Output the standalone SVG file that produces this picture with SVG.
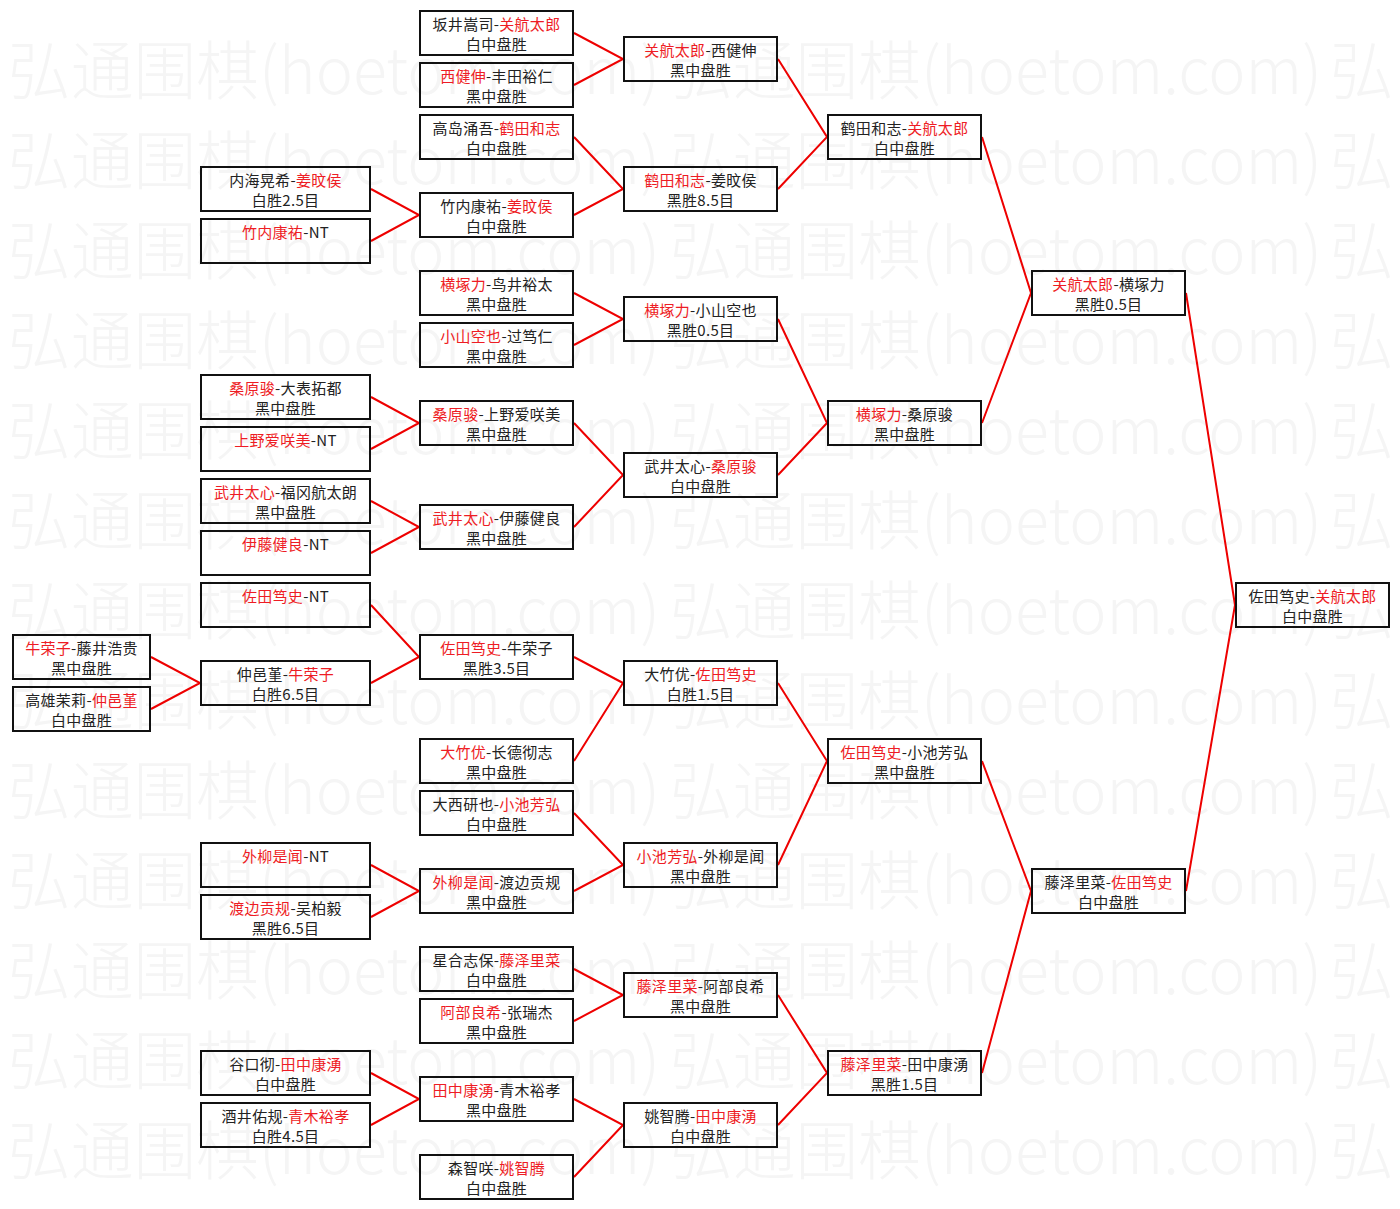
<svg xmlns="http://www.w3.org/2000/svg" xmlns:xlink="http://www.w3.org/1999/xlink" width="1400" height="1209" viewBox="0 0 1400 1209">
<style>
.box{fill:none;stroke:#111;stroke-width:2}
.t{font-family:"Noto Sans CJK SC","Noto Sans CJK JP",sans-serif;font-size:15px;letter-spacing:0.3px;fill:#222;text-anchor:middle}
.r{fill:#ee1c24}
.wm{font-family:"Noto Sans CJK SC",sans-serif;font-size:64px;font-weight:300;fill:#f5f5f5}
.ln{fill:none;stroke:#ee0000;stroke-width:2}
</style>
<defs>
<g id="wmrow">
<text class="wm" x="8" y="0" textLength="652" lengthAdjust="spacingAndGlyphs">弘通围棋(hoetom.com)</text>
<text class="wm" x="670" y="0" textLength="652" lengthAdjust="spacingAndGlyphs">弘通围棋(hoetom.com)</text>
<text class="wm" x="1330" y="0">弘</text>
</g>
</defs>
<rect x="0" y="0" width="1400" height="1209" fill="#ffffff"/>
<g id="watermark">
<use xlink:href="#wmrow" transform="translate(0,94)"/>
<use xlink:href="#wmrow" transform="translate(0,184)"/>
<use xlink:href="#wmrow" transform="translate(0,274)"/>
<use xlink:href="#wmrow" transform="translate(0,364)"/>
<use xlink:href="#wmrow" transform="translate(0,454)"/>
<use xlink:href="#wmrow" transform="translate(0,544)"/>
<use xlink:href="#wmrow" transform="translate(0,634)"/>
<use xlink:href="#wmrow" transform="translate(0,724)"/>
<use xlink:href="#wmrow" transform="translate(0,814)"/>
<use xlink:href="#wmrow" transform="translate(0,904)"/>
<use xlink:href="#wmrow" transform="translate(0,994)"/>
<use xlink:href="#wmrow" transform="translate(0,1084)"/>
<use xlink:href="#wmrow" transform="translate(0,1174)"/>
</g>
<g id="connectors">
<polyline class="ln" points="151,657 200,683 151,709"/>
<polyline class="ln" points="371,189 419,215 371,241"/>
<polyline class="ln" points="371,397 419,423 371,449"/>
<polyline class="ln" points="371,501 419,527 371,553"/>
<polyline class="ln" points="371,605 419,657 371,683"/>
<polyline class="ln" points="371,865 419,891 371,917"/>
<polyline class="ln" points="371,1073 419,1099 371,1125"/>
<polyline class="ln" points="574,33 623,59 574,85"/>
<polyline class="ln" points="574,137 623,189 574,215"/>
<polyline class="ln" points="574,293 623,319 574,345"/>
<polyline class="ln" points="574,423 623,475 574,527"/>
<polyline class="ln" points="574,657 623,683 574,761"/>
<polyline class="ln" points="574,813 623,865 574,891"/>
<polyline class="ln" points="574,969 623,995 574,1021"/>
<polyline class="ln" points="574,1099 623,1125 574,1177"/>
<polyline class="ln" points="778,59 827,137 778,189"/>
<polyline class="ln" points="778,319 827,423 778,475"/>
<polyline class="ln" points="778,683 827,761 778,865"/>
<polyline class="ln" points="778,995 827,1073 778,1125"/>
<polyline class="ln" points="982,137 1031,293 982,423"/>
<polyline class="ln" points="982,761 1031,891 982,1073"/>
<polyline class="ln" points="1186,293 1235,605 1186,891"/>
</g>
<!-- column 0 -->
<g id="n-c0-1"><rect class="box" x="13" y="635" width="137" height="44"/><text class="t" x="81.5" y="654"><tspan class="r">牛荣子</tspan>-藤井浩贵</text><text class="t" x="81.5" y="674">黑中盘胜</text></g>
<g id="n-c0-2"><rect class="box" x="13" y="687" width="137" height="44"/><text class="t" x="81.5" y="706">高雄茉莉-<tspan class="r">仲邑堇</tspan></text><text class="t" x="81.5" y="726">白中盘胜</text></g>
<!-- column 1 -->
<g id="n-c1-1"><rect class="box" x="201" y="167" width="169" height="44"/><text class="t" x="285.5" y="186">内海晃希-<tspan class="r">姜旼侯</tspan></text><text class="t" x="285.5" y="206">白胜2.5目</text></g>
<g id="n-c1-2"><rect class="box" x="201" y="219" width="169" height="44"/><text class="t" x="285.5" y="238"><tspan class="r">竹内康祐</tspan>-NT</text></g>
<g id="n-c1-3"><rect class="box" x="201" y="375" width="169" height="44"/><text class="t" x="285.5" y="394"><tspan class="r">桑原骏</tspan>-大表拓都</text><text class="t" x="285.5" y="414">黑中盘胜</text></g>
<g id="n-c1-4"><rect class="box" x="201" y="427" width="169" height="44"/><text class="t" x="285.5" y="446"><tspan class="r">上野爱咲美</tspan>-NT</text></g>
<g id="n-c1-5"><rect class="box" x="201" y="479" width="169" height="44"/><text class="t" x="285.5" y="498"><tspan class="r">武井太心</tspan>-福冈航太朗</text><text class="t" x="285.5" y="518">黑中盘胜</text></g>
<g id="n-c1-6"><rect class="box" x="201" y="531" width="169" height="44"/><text class="t" x="285.5" y="550"><tspan class="r">伊藤健良</tspan>-NT</text></g>
<g id="n-c1-7"><rect class="box" x="201" y="583" width="169" height="44"/><text class="t" x="285.5" y="602"><tspan class="r">佐田笃史</tspan>-NT</text></g>
<g id="n-c1-8"><rect class="box" x="201" y="661" width="169" height="44"/><text class="t" x="285.5" y="680">仲邑堇-<tspan class="r">牛荣子</tspan></text><text class="t" x="285.5" y="700">白胜6.5目</text></g>
<g id="n-c1-9"><rect class="box" x="201" y="843" width="169" height="44"/><text class="t" x="285.5" y="862"><tspan class="r">外柳是闻</tspan>-NT</text></g>
<g id="n-c1-10"><rect class="box" x="201" y="895" width="169" height="44"/><text class="t" x="285.5" y="914"><tspan class="r">渡边贡规</tspan>-吴柏毅</text><text class="t" x="285.5" y="934">黑胜6.5目</text></g>
<g id="n-c1-11"><rect class="box" x="201" y="1051" width="169" height="44"/><text class="t" x="285.5" y="1070">谷口彻-<tspan class="r">田中康湧</tspan></text><text class="t" x="285.5" y="1090">白中盘胜</text></g>
<g id="n-c1-12"><rect class="box" x="201" y="1103" width="169" height="44"/><text class="t" x="285.5" y="1122">酒井佑规-<tspan class="r">青木裕孝</tspan></text><text class="t" x="285.5" y="1142">白胜4.5目</text></g>
<!-- column 2 -->
<g id="n-c2-1"><rect class="box" x="420" y="11" width="153" height="44"/><text class="t" x="496.5" y="30">坂井嵩司-<tspan class="r">关航太郎</tspan></text><text class="t" x="496.5" y="50">白中盘胜</text></g>
<g id="n-c2-2"><rect class="box" x="420" y="63" width="153" height="44"/><text class="t" x="496.5" y="82"><tspan class="r">西健伸</tspan>-丰田裕仁</text><text class="t" x="496.5" y="102">黑中盘胜</text></g>
<g id="n-c2-3"><rect class="box" x="420" y="115" width="153" height="44"/><text class="t" x="496.5" y="134">高岛涌吾-<tspan class="r">鹤田和志</tspan></text><text class="t" x="496.5" y="154">白中盘胜</text></g>
<g id="n-c2-4"><rect class="box" x="420" y="193" width="153" height="44"/><text class="t" x="496.5" y="212">竹内康祐-<tspan class="r">姜旼侯</tspan></text><text class="t" x="496.5" y="232">白中盘胜</text></g>
<g id="n-c2-5"><rect class="box" x="420" y="271" width="153" height="44"/><text class="t" x="496.5" y="290"><tspan class="r">横塚力</tspan>-鸟井裕太</text><text class="t" x="496.5" y="310">黑中盘胜</text></g>
<g id="n-c2-6"><rect class="box" x="420" y="323" width="153" height="44"/><text class="t" x="496.5" y="342"><tspan class="r">小山空也</tspan>-过笃仁</text><text class="t" x="496.5" y="362">黑中盘胜</text></g>
<g id="n-c2-7"><rect class="box" x="420" y="401" width="153" height="44"/><text class="t" x="496.5" y="420"><tspan class="r">桑原骏</tspan>-上野爱咲美</text><text class="t" x="496.5" y="440">黑中盘胜</text></g>
<g id="n-c2-8"><rect class="box" x="420" y="505" width="153" height="44"/><text class="t" x="496.5" y="524"><tspan class="r">武井太心</tspan>-伊藤健良</text><text class="t" x="496.5" y="544">黑中盘胜</text></g>
<g id="n-c2-9"><rect class="box" x="420" y="635" width="153" height="44"/><text class="t" x="496.5" y="654"><tspan class="r">佐田笃史</tspan>-牛荣子</text><text class="t" x="496.5" y="674">黑胜3.5目</text></g>
<g id="n-c2-10"><rect class="box" x="420" y="739" width="153" height="44"/><text class="t" x="496.5" y="758"><tspan class="r">大竹优</tspan>-长德彻志</text><text class="t" x="496.5" y="778">黑中盘胜</text></g>
<g id="n-c2-11"><rect class="box" x="420" y="791" width="153" height="44"/><text class="t" x="496.5" y="810">大西研也-<tspan class="r">小池芳弘</tspan></text><text class="t" x="496.5" y="830">白中盘胜</text></g>
<g id="n-c2-12"><rect class="box" x="420" y="869" width="153" height="44"/><text class="t" x="496.5" y="888"><tspan class="r">外柳是闻</tspan>-渡边贡规</text><text class="t" x="496.5" y="908">黑中盘胜</text></g>
<g id="n-c2-13"><rect class="box" x="420" y="947" width="153" height="44"/><text class="t" x="496.5" y="966">星合志保-<tspan class="r">藤泽里菜</tspan></text><text class="t" x="496.5" y="986">白中盘胜</text></g>
<g id="n-c2-14"><rect class="box" x="420" y="999" width="153" height="44"/><text class="t" x="496.5" y="1018"><tspan class="r">阿部良希</tspan>-张瑞杰</text><text class="t" x="496.5" y="1038">黑中盘胜</text></g>
<g id="n-c2-15"><rect class="box" x="420" y="1077" width="153" height="44"/><text class="t" x="496.5" y="1096"><tspan class="r">田中康湧</tspan>-青木裕孝</text><text class="t" x="496.5" y="1116">黑中盘胜</text></g>
<g id="n-c2-16"><rect class="box" x="420" y="1155" width="153" height="44"/><text class="t" x="496.5" y="1174">森智咲-<tspan class="r">姚智腾</tspan></text><text class="t" x="496.5" y="1194">白中盘胜</text></g>
<!-- column 3 -->
<g id="n-c3-1"><rect class="box" x="624" y="37" width="153" height="44"/><text class="t" x="700.5" y="56"><tspan class="r">关航太郎</tspan>-西健伸</text><text class="t" x="700.5" y="76">黑中盘胜</text></g>
<g id="n-c3-2"><rect class="box" x="624" y="167" width="153" height="44"/><text class="t" x="700.5" y="186"><tspan class="r">鹤田和志</tspan>-姜旼侯</text><text class="t" x="700.5" y="206">黑胜8.5目</text></g>
<g id="n-c3-3"><rect class="box" x="624" y="297" width="153" height="44"/><text class="t" x="700.5" y="316"><tspan class="r">横塚力</tspan>-小山空也</text><text class="t" x="700.5" y="336">黑胜0.5目</text></g>
<g id="n-c3-4"><rect class="box" x="624" y="453" width="153" height="44"/><text class="t" x="700.5" y="472">武井太心-<tspan class="r">桑原骏</tspan></text><text class="t" x="700.5" y="492">白中盘胜</text></g>
<g id="n-c3-5"><rect class="box" x="624" y="661" width="153" height="44"/><text class="t" x="700.5" y="680">大竹优-<tspan class="r">佐田笃史</tspan></text><text class="t" x="700.5" y="700">白胜1.5目</text></g>
<g id="n-c3-6"><rect class="box" x="624" y="843" width="153" height="44"/><text class="t" x="700.5" y="862"><tspan class="r">小池芳弘</tspan>-外柳是闻</text><text class="t" x="700.5" y="882">黑中盘胜</text></g>
<g id="n-c3-7"><rect class="box" x="624" y="973" width="153" height="44"/><text class="t" x="700.5" y="992"><tspan class="r">藤泽里菜</tspan>-阿部良希</text><text class="t" x="700.5" y="1012">黑中盘胜</text></g>
<g id="n-c3-8"><rect class="box" x="624" y="1103" width="153" height="44"/><text class="t" x="700.5" y="1122">姚智腾-<tspan class="r">田中康湧</tspan></text><text class="t" x="700.5" y="1142">白中盘胜</text></g>
<!-- column 4 -->
<g id="n-c4-1"><rect class="box" x="828" y="115" width="153" height="44"/><text class="t" x="904.5" y="134">鹤田和志-<tspan class="r">关航太郎</tspan></text><text class="t" x="904.5" y="154">白中盘胜</text></g>
<g id="n-c4-2"><rect class="box" x="828" y="401" width="153" height="44"/><text class="t" x="904.5" y="420"><tspan class="r">横塚力</tspan>-桑原骏</text><text class="t" x="904.5" y="440">黑中盘胜</text></g>
<g id="n-c4-3"><rect class="box" x="828" y="739" width="153" height="44"/><text class="t" x="904.5" y="758"><tspan class="r">佐田笃史</tspan>-小池芳弘</text><text class="t" x="904.5" y="778">黑中盘胜</text></g>
<g id="n-c4-4"><rect class="box" x="828" y="1051" width="153" height="44"/><text class="t" x="904.5" y="1070"><tspan class="r">藤泽里菜</tspan>-田中康湧</text><text class="t" x="904.5" y="1090">黑胜1.5目</text></g>
<!-- column 5 -->
<g id="n-c5-1"><rect class="box" x="1032" y="271" width="153" height="44"/><text class="t" x="1108.5" y="290"><tspan class="r">关航太郎</tspan>-横塚力</text><text class="t" x="1108.5" y="310">黑胜0.5目</text></g>
<g id="n-c5-2"><rect class="box" x="1032" y="869" width="153" height="44"/><text class="t" x="1108.5" y="888">藤泽里菜-<tspan class="r">佐田笃史</tspan></text><text class="t" x="1108.5" y="908">白中盘胜</text></g>
<!-- column 6 -->
<g id="n-c6-1"><rect class="box" x="1236" y="583" width="153" height="44"/><text class="t" x="1312.5" y="602">佐田笃史-<tspan class="r">关航太郎</tspan></text><text class="t" x="1312.5" y="622">白中盘胜</text></g>
</svg>
